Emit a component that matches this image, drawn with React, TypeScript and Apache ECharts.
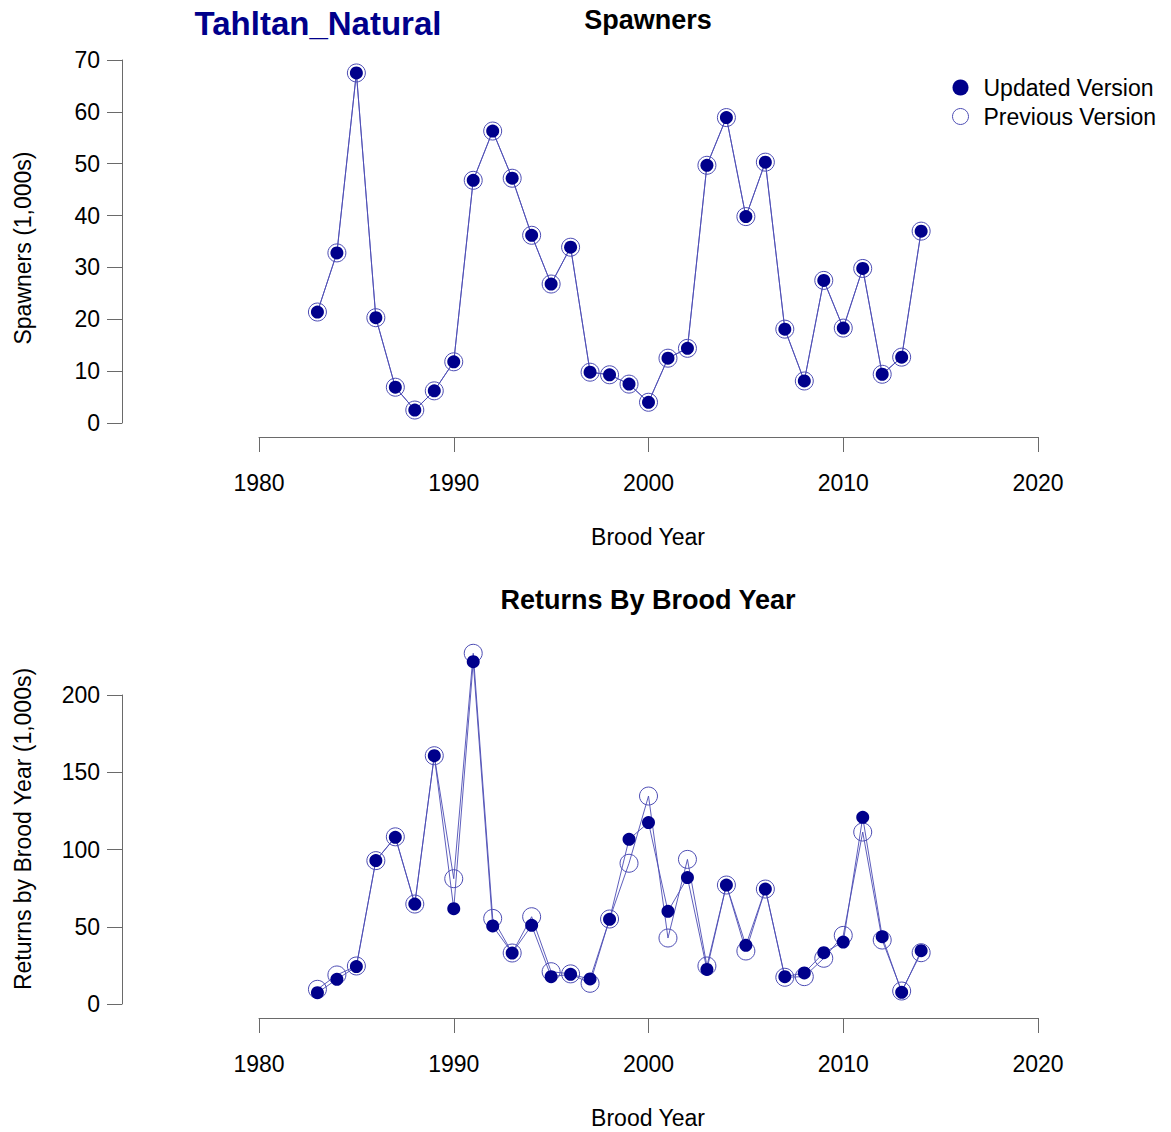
import React, { useEffect, useRef } from "react";
import * as echarts from "echarts";

// Brood years 1983–2014
const years = [
  1983, 1984, 1985, 1986, 1987, 1988, 1989, 1990, 1991, 1992, 1993, 1994, 1995, 1996, 1997, 1998,
  1999, 2000, 2001, 2002, 2003, 2004, 2005, 2006, 2007, 2008, 2009, 2010, 2011, 2012, 2013, 2014,
];

// Spawners (1,000s) – both versions agree
const spawnersUpdated = [
  21.4, 32.8, 67.5, 20.3, 6.9, 2.5, 6.2, 11.8, 46.8, 56.3, 47.2, 36.2, 26.8, 33.9, 9.8, 9.3,
  7.5, 4.0, 12.5, 14.4, 49.7, 58.9, 39.8, 50.3, 18.1, 8.1, 27.5, 18.3, 29.8, 9.4, 12.7, 37.0,
];
const spawnersPrevious = [
  21.4, 32.8, 67.5, 20.3, 6.9, 2.5, 6.2, 11.8, 46.8, 56.3, 47.2, 36.2, 26.8, 33.9, 9.8, 9.3,
  7.5, 4.0, 12.5, 14.4, 49.7, 58.9, 39.8, 50.3, 18.1, 8.1, 27.5, 18.3, 29.8, 9.4, 12.7, 37.0,
];

// Returns by brood year (1,000s)
const returnsUpdated = [
  7.3, 16.0, 24.2, 92.8, 107.9, 64.7, 160.7, 61.7, 221.6, 50.5, 33.0, 50.9, 17.7, 19.2, 16.2, 54.8,
  106.6, 117.4, 60.0, 81.8, 22.4, 77.0, 38.0, 74.4, 17.7, 20.1, 33.2, 40.1, 120.8, 43.6, 7.6, 34.5,
];
const returnsPrevious = [
  9.5, 18.8, 24.6, 92.8, 108.2, 64.7, 160.7, 81.1, 227.0, 55.4, 33.0, 56.5, 20.9, 19.5, 13.4, 55.0,
  91.1, 134.6, 42.7, 93.6, 24.6, 77.0, 34.3, 74.4, 17.3, 17.7, 29.6, 44.4, 111.3, 41.4, 8.4, 33.2,
];

const xTicks = { min: 1980, max: 2020, interval: 10 };
const spawnerTicks = { min: 0, max: 70, interval: 10 };
const returnTicks = { min: 0, max: 200, interval: 50 };
const returnDataMax = 230;

const FONT = "'Liberation Sans', Arial, Helvetica, sans-serif";
const NAVY = "#00008B";
const LINE = "#4c4cb4";
const AXIS = "#6a6a6a";

const pairs = (xs: number[], ys: number[]) => xs.map((x, i) => [x, ys[i]]);
const plain = (v: number) => String(v);

function visibleX(gridIndex: number) {
  return {
    type: "value",
    gridIndex,
    min: xTicks.min,
    max: xTicks.max,
    interval: xTicks.interval,
    position: "bottom",
    offset: 14,
    axisLine: { show: true, onZero: false, lineStyle: { color: AXIS, width: 1 } },
    axisTick: { show: true, length: 15, lineStyle: { color: AXIS, width: 1 } },
    axisLabel: { margin: 34, fontSize: 23, color: "#000", fontFamily: FONT, formatter: plain },
    splitLine: { show: false },
  };
}

function visibleY(gridIndex: number, t: { min: number; max: number; interval: number }) {
  return {
    type: "value",
    gridIndex,
    min: t.min,
    max: t.max,
    interval: t.interval,
    position: "left",
    offset: 137,
    axisLine: { show: true, onZero: false, lineStyle: { color: AXIS, width: 1 } },
    axisTick: { show: true, length: 15, lineStyle: { color: AXIS, width: 1 } },
    axisLabel: { margin: 22, fontSize: 23, color: "#000", fontFamily: FONT, formatter: plain },
    splitLine: { show: false },
  };
}

function hiddenAxis(gridIndex: number, min: number, max: number) {
  return {
    type: "value",
    gridIndex,
    min,
    max,
    show: false,
    axisLine: { show: false, onZero: false },
    axisTick: { show: false },
    axisLabel: { show: false },
    splitLine: { show: false },
  };
}

function previousSeries(name: string, xi: number, yi: number, data: number[][]) {
  return {
    name,
    type: "line",
    xAxisIndex: xi,
    yAxisIndex: yi,
    data,
    clip: false,
    symbol: "circle",
    symbolSize: 18,
    z: 2,
    lineStyle: { color: LINE, width: 0.9 },
    itemStyle: { color: "rgba(0,0,0,0)", borderColor: LINE, borderWidth: 1 },
  };
}

function updatedSeries(name: string, xi: number, yi: number, data: number[][]) {
  return {
    name,
    type: "line",
    xAxisIndex: xi,
    yAxisIndex: yi,
    data,
    clip: false,
    symbol: "circle",
    symbolSize: 13,
    z: 3,
    lineStyle: { color: LINE, width: 0.9 },
    itemStyle: { color: NAVY, borderWidth: 0 },
  };
}

export default function App() {
  const ref = useRef<HTMLDivElement>(null);

  useEffect(() => {
    if (!ref.current) return;
    const chart = echarts.init(ref.current, null, { renderer: "svg" });

    const option = {
      animation: false,
      backgroundColor: "#ffffff",
      textStyle: { fontFamily: FONT },
      grid: [
        // Spawners panel
        { left: 259, top: 60, width: 779, height: 363, containLabel: false },
        // Returns panel: axis frame (0–200)
        { left: 259, top: 695, width: 779, height: 309, containLabel: false },
        // Returns panel: data area (0–230, shares the zero line)
        {
          left: 259,
          top: 1004 - (309 / 200) * returnDataMax,
          width: 779,
          height: (309 / 200) * returnDataMax,
          containLabel: false,
        },
      ],
      xAxis: [visibleX(0), visibleX(1), hiddenAxis(2, xTicks.min, xTicks.max)],
      yAxis: [visibleY(0, spawnerTicks), visibleY(1, returnTicks), hiddenAxis(2, 0, returnDataMax)],
      legend: {
        orient: "vertical",
        left: 947,
        top: 71,
        itemWidth: 36,
        itemHeight: 16,
        itemGap: 6,
        selectedMode: false,
        textStyle: { fontSize: 23, color: "#000", fontFamily: FONT },
        data: [
          { name: "Updated Version", icon: "circle", itemStyle: { color: NAVY, borderWidth: 0 } },
          {
            name: "Previous Version",
            icon: "circle",
            itemStyle: { color: "rgba(0,0,0,0)", borderColor: LINE, borderWidth: 1 },
          },
        ],
      },
      series: [
        previousSeries("Previous Version", 0, 0, pairs(years, spawnersPrevious)),
        updatedSeries("Updated Version", 0, 0, pairs(years, spawnersUpdated)),
        previousSeries("Previous Version", 2, 2, pairs(years, returnsPrevious)),
        updatedSeries("Updated Version", 2, 2, pairs(years, returnsUpdated)),
      ],
      graphic: [
        {
          type: "text",
          x: 318,
          y: 23,
          style: {
            text: "Tahltan_Natural",
            font: `bold 33px ${FONT}`,
            fill: NAVY,
            align: "center",
            verticalAlign: "middle",
          },
        },
        {
          type: "text",
          x: 648,
          y: 20,
          style: { text: "Spawners", font: `bold 27px ${FONT}`, fill: "#000", align: "center", verticalAlign: "middle" },
        },
        {
          type: "text",
          x: 648,
          y: 600,
          style: {
            text: "Returns By Brood Year",
            font: `bold 27px ${FONT}`,
            fill: "#000",
            align: "center",
            verticalAlign: "middle",
          },
        },
        {
          type: "text",
          x: 648,
          y: 537,
          style: { text: "Brood Year", font: `23px ${FONT}`, fill: "#000", align: "center", verticalAlign: "middle" },
        },
        {
          type: "text",
          x: 648,
          y: 1118,
          style: { text: "Brood Year", font: `23px ${FONT}`, fill: "#000", align: "center", verticalAlign: "middle" },
        },
        {
          type: "text",
          x: 23,
          y: 248,
          rotation: Math.PI / 2,
          style: {
            text: "Spawners (1,000s)",
            font: `23px ${FONT}`,
            fill: "#000",
            align: "center",
            verticalAlign: "middle",
          },
        },
        {
          type: "text",
          x: 23,
          y: 829,
          rotation: Math.PI / 2,
          style: {
            text: "Returns by Brood Year (1,000s)",
            font: `23px ${FONT}`,
            fill: "#000",
            align: "center",
            verticalAlign: "middle",
          },
        },
      ],
    };

    chart.setOption(option as any);
    return () => chart.dispose();
  }, []);

  return (
    <div
      ref={ref}
      style={{ position: "fixed", left: 0, top: 0, width: 1171, height: 1132, background: "#fff" }}
    />
  );
}
